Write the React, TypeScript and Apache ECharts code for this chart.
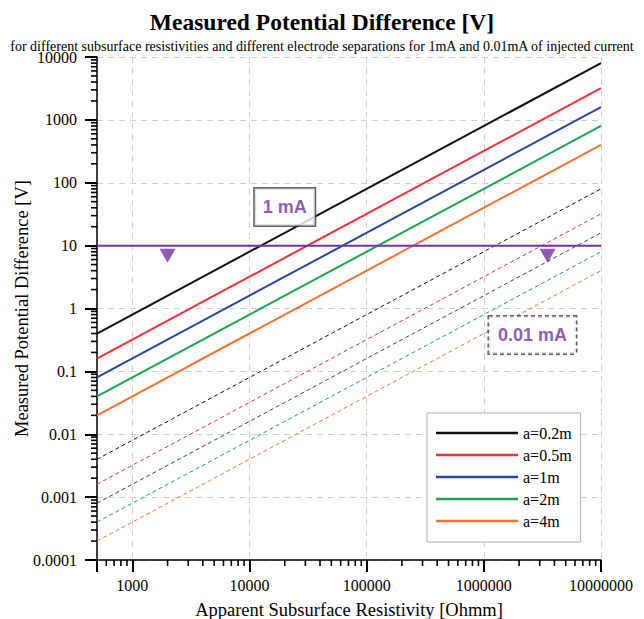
import React, { useEffect, useRef } from "react";
import * as echarts from "echarts";

const rhoRange = [500, 10000000];
const seriesNames = ["a=0.2m", "a=0.5m", "a=1m", "a=2m", "a=4m"];
const colors = ["#111111", "#ed3237", "#2747a0", "#1ca451", "#f7722d"];
const v1mA = [
  [0.4, 8000],
  [0.16, 3200],
  [0.08, 1600],
  [0.04, 800],
  [0.02, 400],
];
const v001mA = [
  [0.004, 80],
  [0.0016, 32],
  [0.0008, 16],
  [0.0004, 8],
  [0.0002, 4],
];
const thresholdLevel = [10, 10];
const markerPoints = [
  [2000, 6.9],
  [3500000, 6.9],
];
const label1mA = [20000, 41];
const label001mA = [2600000, 0.38];

const xTickLabels = ["1000", "10000", "100000", "1000000", "10000000"]; // 10^3..10^7
const yTickLabels = ["0.0001", "0.001", "0.01", "0.1", "1", "10", "100", "1000", "10000"]; // 10^-4..10^4
const xMajorTicks = [1000, 10000, 100000, 1000000, 10000000];
const yMajorTicks = [0.0001, 0.001, 0.01, 0.1, 1, 10, 100, 1000, 10000];

const PURPLE = "#7232a0";
const SERIF = "Liberation Serif";
const SANS = "Liberation Sans";

function minorTicks(lo: number, hi: number): number[] {
  const out: number[] = [];
  for (let e = -6; e <= 8; e++) {
    const base = Math.pow(10, e);
    for (let k = 2; k <= 9; k++) {
      const v = k * base;
      if (v >= lo * 0.9999 && v <= hi * 1.0001) out.push(v);
    }
  }
  return out;
}

function isPow10(v: number) {
  const l = Math.log10(v);
  return Math.abs(l - Math.round(l)) < 1e-6;
}

export default function App() {
  const ref = useRef<HTMLDivElement>(null);

  useEffect(() => {
    document.body.style.margin = "0";
    if (!ref.current) return;
    const chart = echarts.init(ref.current, undefined, { renderer: "svg" });

    const xMin = rhoRange[0];
    const xMax = rhoRange[1];
    const yMin = yMajorTicks[0];
    const yMax = yMajorTicks[yMajorTicks.length - 1];

    const solidSeries = seriesNames.map((name, i) => ({
      name,
      type: "line",
      symbol: "none",
      data: [
        [rhoRange[0], v1mA[i][0]],
        [rhoRange[1], v1mA[i][1]],
      ],
      lineStyle: { color: colors[i], width: 2 },
      itemStyle: { color: colors[i] },
      z: 3,
    }));
    const dashedSeries = seriesNames.map((name, i) => ({
      name: name + " (0.01mA)",
      type: "line",
      symbol: "none",
      data: [
        [rhoRange[0], v001mA[i][0]],
        [rhoRange[1], v001mA[i][1]],
      ],
      lineStyle: { color: colors[i], width: 1, type: [4, 3] },
      itemStyle: { color: colors[i] },
      z: 3,
    }));

    const labelBase = {
      show: true,
      position: "inside",
      color: PURPLE,
      fontFamily: SANS,
      fontWeight: "bold",
      fontSize: 18,
      lineHeight: 19,
      backgroundColor: "#ffffff",
      borderColor: "#3a3a3a",
      borderWidth: 1.5,
    };

    const axisNameStyle = { fontFamily: SERIF, fontSize: 18.5, color: "#000" };
    const tickLabelStyle = { fontFamily: SERIF, fontSize: 16, color: "#000" };
    const gridLine = { show: true, lineStyle: { color: "#cfcfcf", width: 1, type: [6, 5] } };
    const majorTick = { show: true, inside: false, length: 12, lineStyle: { color: "#000", width: 2 } };

    chart.setOption({
      animation: false,
      backgroundColor: "#ffffff",
      title: [
        {
          text: "Measured Potential Difference [V]",
          left: "center",
          top: 5,
          textStyle: { fontFamily: SERIF, fontSize: 23.5, fontWeight: "bold", color: "#000" },
        },
        {
          text: "for different subsurface resistivities and different electrode separations for 1mA and 0.01mA of injected current",
          left: "center",
          top: 34,
          textStyle: { fontFamily: SERIF, fontSize: 14, lineHeight: 14, fontWeight: "normal", color: "#000" },
        },
      ],
      legend: {
        data: seriesNames,
        orient: "vertical",
        left: 427,
        top: 413,
        icon: "rect",
        itemWidth: 82,
        itemHeight: 2.5,
        itemGap: 6,
        padding: [12, 9, 13, 9],
        backgroundColor: "#ffffff",
        borderColor: "#b0b0b0",
        borderWidth: 1,
        textStyle: { fontFamily: SERIF, fontSize: 16, color: "#000" },
        selectedMode: false,
      },
      grid: { left: 97, right: 43, top: 57, bottom: 59, outerBoundsMode: "none", containLabel: false },
      xAxis: {
        type: "log",
        logBase: 10,
        min: xMin,
        max: xMax,
        name: "Apparent Subsurface Resistivity [Ohmm]",
        nameLocation: "middle",
        nameGap: 40,
        nameMoveOverlap: false,
        nameTextStyle: axisNameStyle,
        axisLine: { show: true, lineStyle: { color: "#000", width: 1.5 } },
        axisTick: majorTick,
        axisLabel: {
          margin: 17,
          ...tickLabelStyle,
          formatter: (v: number) =>
            isPow10(v) ? xTickLabels[Math.round(Math.log10(v)) - 3] ?? "" : "",
        },
        splitLine: gridLine,
      },
      yAxis: {
        type: "log",
        logBase: 10,
        min: yMin,
        max: yMax,
        name: "Measured Potential Difference [V]",
        nameLocation: "middle",
        nameGap: 66,
        nameMoveOverlap: false,
        nameTextStyle: axisNameStyle,
        axisLine: { show: true, lineStyle: { color: "#000", width: 1.5 } },
        axisTick: majorTick,
        axisLabel: {
          margin: 20,
          ...tickLabelStyle,
          lineHeight: 12,
          formatter: (v: number) =>
            isPow10(v) ? yTickLabels[Math.round(Math.log10(v)) + 4] ?? "" : "",
        },
        splitLine: gridLine,
      },
      series: [
        ...dashedSeries,
        ...solidSeries,
        {
          name: "1 mA level",
          type: "line",
          symbol: "none",
          data: [
            [rhoRange[0], thresholdLevel[0]],
            [rhoRange[1], thresholdLevel[1]],
          ],
          lineStyle: { color: PURPLE, width: 2 },
          z: 4,
        },
        {
          name: "markers",
          type: "scatter",
          symbol: "triangle",
          symbolSize: [16, 14],
          symbolRotate: 180,
          itemStyle: { color: PURPLE },
          data: markerPoints,
          z: 5,
        },
        {
          name: "labels",
          type: "scatter",
          symbolSize: 1,
          itemStyle: { color: "rgba(0,0,0,0)" },
          data: [
            {
              value: label1mA,
              label: { ...labelBase, formatter: "1 mA", padding: [9, 8, 9, 8] },
            },
            {
              value: label001mA,
              label: {
                ...labelBase,
                formatter: "0.01 mA",
                padding: [9, 9, 9, 9],
                borderType: [4, 3],
              },
            },
          ],
          z: 6,
        },
      ],
    });

    // Minor (logarithmic) ticks, positioned through the axes' own scales.
    const toX = (v: number) => Number(chart.convertToPixel({ xAxisIndex: 0 }, v));
    const toY = (v: number) => Number(chart.convertToPixel({ yAxisIndex: 0 }, v));
    const baseY = toY(yMin);
    const baseX = toX(xMin);
    const tickEls: any[] = [];
    const addX = (v: number, len: number) => {
      const px = toX(v);
      tickEls.push({
        type: "line",
        silent: true,
        z: 100,
        shape: { x1: px, y1: baseY, x2: px, y2: baseY + len },
        style: { stroke: "#000", lineWidth: 1.6 },
      });
    };
    const addY = (v: number, len: number) => {
      const py = toY(v);
      tickEls.push({
        type: "line",
        silent: true,
        z: 100,
        shape: { x1: baseX, y1: py, x2: baseX - len, y2: py },
        style: { stroke: "#000", lineWidth: 1.6 },
      });
    };
    minorTicks(xMin, xMax).forEach((v) => addX(v, 6));
    minorTicks(yMin, yMax).forEach((v) => addY(v, 6));
    chart.setOption({ graphic: { elements: tickEls } });

    return () => chart.dispose();
  }, []);

  return <div ref={ref} style={{ width: 644, height: 619 }} />;
}
